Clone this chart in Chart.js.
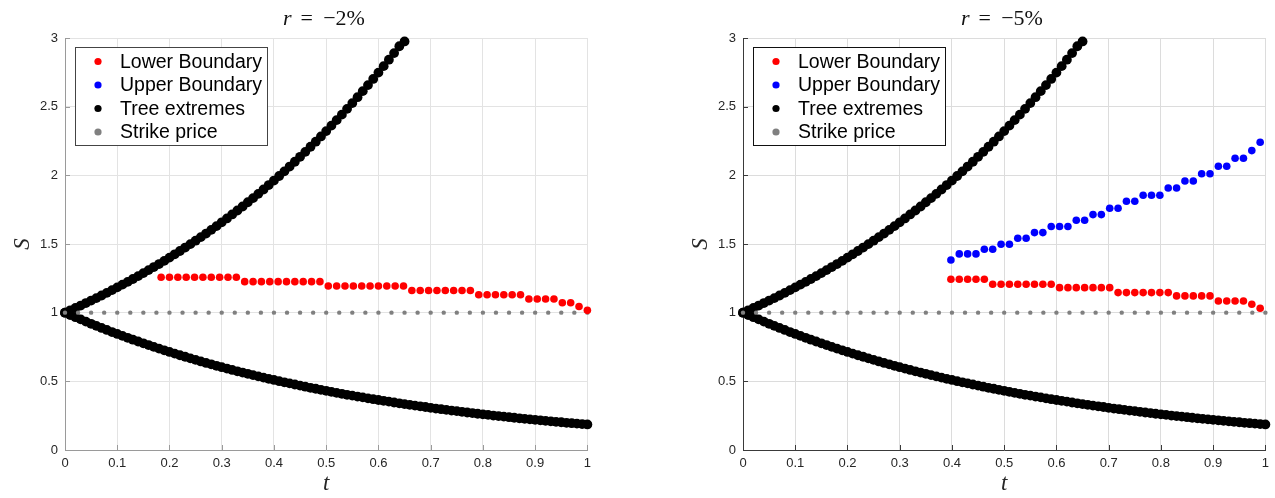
<!DOCTYPE html>
<html lang="en">
<head>
<meta charset="UTF-8">
<title>Exercise boundaries in the binomial tree</title>
<script src="https://cdn.jsdelivr.net/npm/chart.js@4.4.1/dist/chart.umd.min.js"></script>
<style>
  body { margin: 0; background: #fff; width: 1275px; height: 498px; position: relative; overflow: hidden; }
  .panel { position: absolute; top: 0; width: 597px; height: 498px; }
  #left { left: 0; }
  #right { left: 678px; }
</style>
</head>
<body>
<div class="panel" id="left"><canvas id="chartLeft" width="597" height="498"></canvas></div>
<div class="panel" id="right"><canvas id="chartRight" width="597" height="498"></canvas></div>
<script>
// panel titles
const rates = ['\u22122%', '\u22125%'];

// time grid of the tree (t)
const tTree = [
  0, 0.01, 0.02, 0.03, 0.04, 0.05, 0.06, 0.07, 0.08, 0.09,
  0.10, 0.11, 0.12, 0.13, 0.14, 0.15, 0.16, 0.17, 0.18, 0.19,
  0.20, 0.21, 0.22, 0.23, 0.24, 0.25, 0.26, 0.27, 0.28, 0.29,
  0.30, 0.31, 0.32, 0.33, 0.34, 0.35, 0.36, 0.37, 0.38, 0.39,
  0.40, 0.41, 0.42, 0.43, 0.44, 0.45, 0.46, 0.47, 0.48, 0.49,
  0.50, 0.51, 0.52, 0.53, 0.54, 0.55, 0.56, 0.57, 0.58, 0.59,
  0.60, 0.61, 0.62, 0.63, 0.64, 0.65, 0.66, 0.67, 0.68, 0.69,
  0.70, 0.71, 0.72, 0.73, 0.74, 0.75, 0.76, 0.77, 0.78, 0.79,
  0.80, 0.81, 0.82, 0.83, 0.84, 0.85, 0.86, 0.87, 0.88, 0.89,
  0.90, 0.91, 0.92, 0.93, 0.94, 0.95, 0.96, 0.97, 0.98, 0.99,
  1.00
];

// upper tree extreme (visible part, up to S = 3)
const sTreeUp = [
  1.000, 1.017, 1.034, 1.052, 1.070, 1.088, 1.106, 1.125, 1.144, 1.164,
  1.184, 1.204, 1.224, 1.245, 1.266, 1.288, 1.310, 1.332, 1.354, 1.377,
  1.401, 1.425, 1.449, 1.474, 1.499, 1.524, 1.550, 1.576, 1.603, 1.630,
  1.658, 1.686, 1.715, 1.744, 1.773, 1.804, 1.834, 1.865, 1.897, 1.929,
  1.962, 1.995, 2.029, 2.064, 2.099, 2.135, 2.171, 2.208, 2.245, 2.283,
  2.322, 2.362, 2.402, 2.442, 2.484, 2.526, 2.569, 2.613, 2.657, 2.702,
  2.748, 2.795, 2.842, 2.890, 2.940, 2.975
];

// lower tree extreme
const sTreeDown = [
  1.000, 0.983, 0.967, 0.951, 0.935, 0.919, 0.904, 0.889, 0.874, 0.859,
  0.845, 0.831, 0.817, 0.803, 0.790, 0.777, 0.764, 0.751, 0.738, 0.726,
  0.714, 0.702, 0.690, 0.679, 0.667, 0.656, 0.645, 0.634, 0.624, 0.613,
  0.603, 0.593, 0.583, 0.573, 0.564, 0.555, 0.545, 0.536, 0.527, 0.518,
  0.510, 0.501, 0.493, 0.485, 0.477, 0.469, 0.461, 0.453, 0.446, 0.438,
  0.431, 0.423, 0.416, 0.409, 0.402, 0.396, 0.389, 0.383, 0.376, 0.370,
  0.364, 0.358, 0.352, 0.346, 0.340, 0.334, 0.329, 0.323, 0.318, 0.313,
  0.307, 0.302, 0.297, 0.292, 0.287, 0.283, 0.278, 0.273, 0.269, 0.264,
  0.260, 0.256, 0.251, 0.247, 0.243, 0.239, 0.235, 0.231, 0.227, 0.223,
  0.220, 0.216, 0.212, 0.209, 0.205, 0.202, 0.198, 0.195, 0.192, 0.189,
  0.186
];

// strike price
const tStrike = [
  0, 0.025, 0.05, 0.075, 0.1, 0.125, 0.15, 0.175, 0.2, 0.225,
  0.25, 0.275, 0.3, 0.325, 0.35, 0.375, 0.4, 0.425, 0.45, 0.475,
  0.5, 0.525, 0.55, 0.575, 0.6, 0.625, 0.65, 0.675, 0.7, 0.725,
  0.75, 0.775, 0.8, 0.825, 0.85, 0.875, 0.9, 0.925, 0.95, 0.975,
  1
];
const sStrike = [
  1, 1, 1, 1, 1, 1, 1, 1, 1, 1,
  1, 1, 1, 1, 1, 1, 1, 1, 1, 1,
  1, 1, 1, 1, 1, 1, 1, 1, 1, 1,
  1, 1, 1, 1, 1, 1, 1, 1, 1, 1,
  1
];

// r = -2%: lower boundary
const tLowerA = [
  0.184, 0.200, 0.216, 0.232, 0.248, 0.264, 0.280, 0.296, 0.312, 0.328,
  0.344, 0.360, 0.376, 0.392, 0.408, 0.424, 0.440, 0.456, 0.472, 0.488,
  0.504, 0.520, 0.536, 0.552, 0.568, 0.584, 0.600, 0.616, 0.632, 0.648,
  0.664, 0.680, 0.696, 0.712, 0.728, 0.744, 0.760, 0.776, 0.792, 0.808,
  0.824, 0.840, 0.856, 0.872, 0.888, 0.904, 0.920, 0.936, 0.952, 0.968,
  0.984, 1.000
];
const sLowerA = [
  1.258, 1.258, 1.258, 1.258, 1.258, 1.258, 1.258, 1.258, 1.258, 1.258,
  1.226, 1.226, 1.226, 1.226, 1.226, 1.226, 1.226, 1.226, 1.226, 1.226,
  1.194, 1.194, 1.194, 1.194, 1.194, 1.194, 1.194, 1.194, 1.194, 1.194,
  1.161, 1.161, 1.161, 1.161, 1.161, 1.161, 1.161, 1.161,
  1.130, 1.130, 1.130, 1.130, 1.130, 1.130,
  1.100, 1.100, 1.100, 1.100,
  1.072, 1.072, 1.045, 1.017
];

// r = -5%: lower and upper boundary
const tBoundB = [
  0.398, 0.414, 0.430, 0.446, 0.462, 0.478, 0.494, 0.510, 0.526, 0.542,
  0.558, 0.574, 0.590, 0.606, 0.622, 0.638, 0.654, 0.670, 0.686, 0.702,
  0.718, 0.734, 0.750, 0.766, 0.782, 0.798, 0.814, 0.830, 0.846, 0.862,
  0.878, 0.894, 0.910, 0.926, 0.942, 0.958, 0.974, 0.990
];
const sLowerB = [
  1.243, 1.243, 1.243, 1.243, 1.243,
  1.207, 1.207, 1.207, 1.207, 1.207, 1.207, 1.207, 1.207,
  1.182, 1.182, 1.182, 1.182, 1.182, 1.182, 1.182,
  1.146, 1.146, 1.146, 1.146, 1.146, 1.146, 1.146,
  1.122, 1.122, 1.122, 1.122, 1.122,
  1.085, 1.085, 1.085, 1.085,
  1.061, 1.032
];
const sUpperB = [
  1.384, 1.428, 1.428, 1.428, 1.462, 1.462, 1.498, 1.498, 1.542, 1.542,
  1.583, 1.583, 1.627, 1.627, 1.627, 1.673, 1.673, 1.714, 1.714, 1.760,
  1.760, 1.811, 1.811, 1.855, 1.855, 1.855, 1.908, 1.908, 1.959, 1.959,
  2.012, 2.012, 2.066, 2.066, 2.124, 2.124, 2.180, 2.241
];

const legendLabels = ['Lower Boundary', 'Upper Boundary', 'Tree extremes', 'Strike price'];
const legendColors = ['#ff0000', '#0000ff', '#000000', '#808080'];

const SANS = '"Liberation Sans", Arial, Helvetica, sans-serif';
const SERIF = '"Liberation Serif", "Times New Roman", serif';

function pts(ts, ss) {
  return ts.map((t, i) => ({ x: t, y: ss[i] }));
}

// legend box drawn inside the axes, top-left (MATLAB style)
const boxLegend = {
  id: 'boxLegend',
  afterDraw(chart, args, opts) {
    const ctx = chart.ctx, a = chart.chartArea;
    const x0 = a.left + 10.5, y0 = a.top + 9.5, w = 192, h = 98;
    ctx.save();
    ctx.fillStyle = '#fff';
    ctx.fillRect(x0, y0, w, h);
    ctx.strokeStyle = opts.border;
    ctx.lineWidth = 1;
    ctx.strokeRect(x0, y0, w, h);
    ctx.font = '19.5px ' + SANS;
    ctx.textBaseline = 'middle';
    legendLabels.forEach((label, i) => {
      const y = y0 + 14 + i * 23.5;
      ctx.fillStyle = legendColors[i];
      ctx.beginPath();
      ctx.arc(x0 + 22.5, y, 3.6, 0, Math.PI * 2);
      ctx.fill();
      ctx.fillStyle = '#000';
      ctx.fillText(label, x0 + 44.5, y + 1);
    });
    ctx.restore();
  }
};

// "r = -x%" title with an italic r
const texTitle = {
  id: 'texTitle',
  afterDraw(chart, args, opts) {
    const ctx = chart.ctx, a = chart.chartArea;
    const cx = (a.left + a.right) / 2, y = 19;
    ctx.save();
    ctx.fillStyle = '#111';
    ctx.textBaseline = 'middle';
    ctx.textAlign = 'center';
    ctx.font = 'italic 22px ' + SERIF;
    ctx.fillText('r', cx - 39, y);
    ctx.font = '22px ' + SERIF;
    ctx.fillText('=', cx - 19.5, y);
    ctx.textAlign = 'left';
    ctx.fillText(opts.text, cx - 3, y);
    ctx.restore();
  }
};

// tick marks pointing into the axes
const inTicks = {
  id: 'inTicks',
  beforeDatasetsDraw(chart, args, opts) {
    const ctx = chart.ctx, a = chart.chartArea;
    const sx = chart.scales.x, sy = chart.scales.y;
    ctx.save();
    ctx.strokeStyle = opts.color;
    ctx.lineWidth = 1;
    ctx.beginPath();
    sx.ticks.forEach(t => {
      const px = Math.round(sx.getPixelForValue(t.value)) + 0.5;
      ctx.moveTo(px, a.bottom);
      ctx.lineTo(px, a.bottom - 5);
    });
    sy.ticks.forEach(t => {
      const py = Math.round(sy.getPixelForValue(t.value)) + 0.5;
      ctx.moveTo(a.left, py);
      ctx.lineTo(a.left + 5, py);
    });
    ctx.stroke();
    ctx.restore();
  }
};

function dot(label, data, color, radius, order) {
  return {
    label: label,
    data: data,
    backgroundColor: color,
    borderColor: color,
    pointRadius: radius,
    pointBorderWidth: 0,
    pointHoverRadius: radius,
    showLine: false,
    clip: false,
    order: order
  };
}

function makeChart(id, datasets, title, axisColor, gridColor, legendBorder) {
  return new Chart(document.getElementById(id), {
    type: 'scatter',
    data: { datasets: datasets },
    plugins: [inTicks, boxLegend, texTitle],
    options: {
      responsive: false,
      animation: false,
      events: [],
      layout: { padding: { top: 38, right: 9, left: 0, bottom: 0 } },
      scales: {
        x: {
          type: 'linear', min: 0, max: 1,
          ticks: {
            stepSize: 0.1, padding: 6, maxRotation: 0, color: '#262626',
            font: { family: SANS, size: 13 },
            callback: v => String(Math.round(v * 10) / 10)
          },
          grid: { color: gridColor, drawTicks: false },
          border: { color: axisColor, width: 1 },
          title: {
            display: true, text: 't', color: '#262626', padding: 0,
            font: { family: SERIF, size: 23, style: 'italic' }
          },
          afterFit: s => { s.height = 48; }
        },
        y: {
          type: 'linear', min: 0, max: 3,
          ticks: {
            stepSize: 0.5, padding: 7, color: '#262626',
            font: { family: SANS, size: 13 },
            callback: v => String(v)
          },
          grid: { color: gridColor, drawTicks: false },
          border: { color: axisColor, width: 1 },
          title: {
            display: true, text: 'S', color: '#262626', padding: { top: 9, bottom: 0 },
            font: { family: SERIF, size: 23, style: 'italic' }
          },
          afterFit: s => { s.width = 65; }
        }
      },
      plugins: {
        legend: { display: false },
        tooltip: { enabled: false },
        title: { display: false },
        inTicks: { color: axisColor },
        boxLegend: { border: legendBorder },
        texTitle: { text: title }
      }
    }
  });
}

makeChart('chartLeft', [
  dot('Lower Boundary', pts(tLowerA, sLowerA), '#ff0000', 3.8, 0),
  dot('Strike price', pts(tStrike, sStrike), '#808080', 2.2, 1),
  dot('Tree extremes', pts(tTree.slice(0, sTreeUp.length), sTreeUp), '#000000', 4.9, 2),
  dot('Tree extremes', pts(tTree, sTreeDown), '#000000', 4.9, 2)
], rates[0], '#9a9a9a', '#e3e3e3', '#444');

makeChart('chartRight', [
  dot('Lower Boundary', pts(tBoundB, sLowerB), '#ff0000', 3.8, 0),
  dot('Upper Boundary', pts(tBoundB, sUpperB), '#0000ff', 3.8, 0),
  dot('Strike price', pts(tStrike, sStrike), '#808080', 2.2, 1),
  dot('Tree extremes', pts(tTree.slice(0, sTreeUp.length), sTreeUp), '#000000', 4.9, 2),
  dot('Tree extremes', pts(tTree, sTreeDown), '#000000', 4.9, 2)
], rates[1], '#3a3a3a', '#dcdcdc', '#111');
</script>
</body>
</html>
